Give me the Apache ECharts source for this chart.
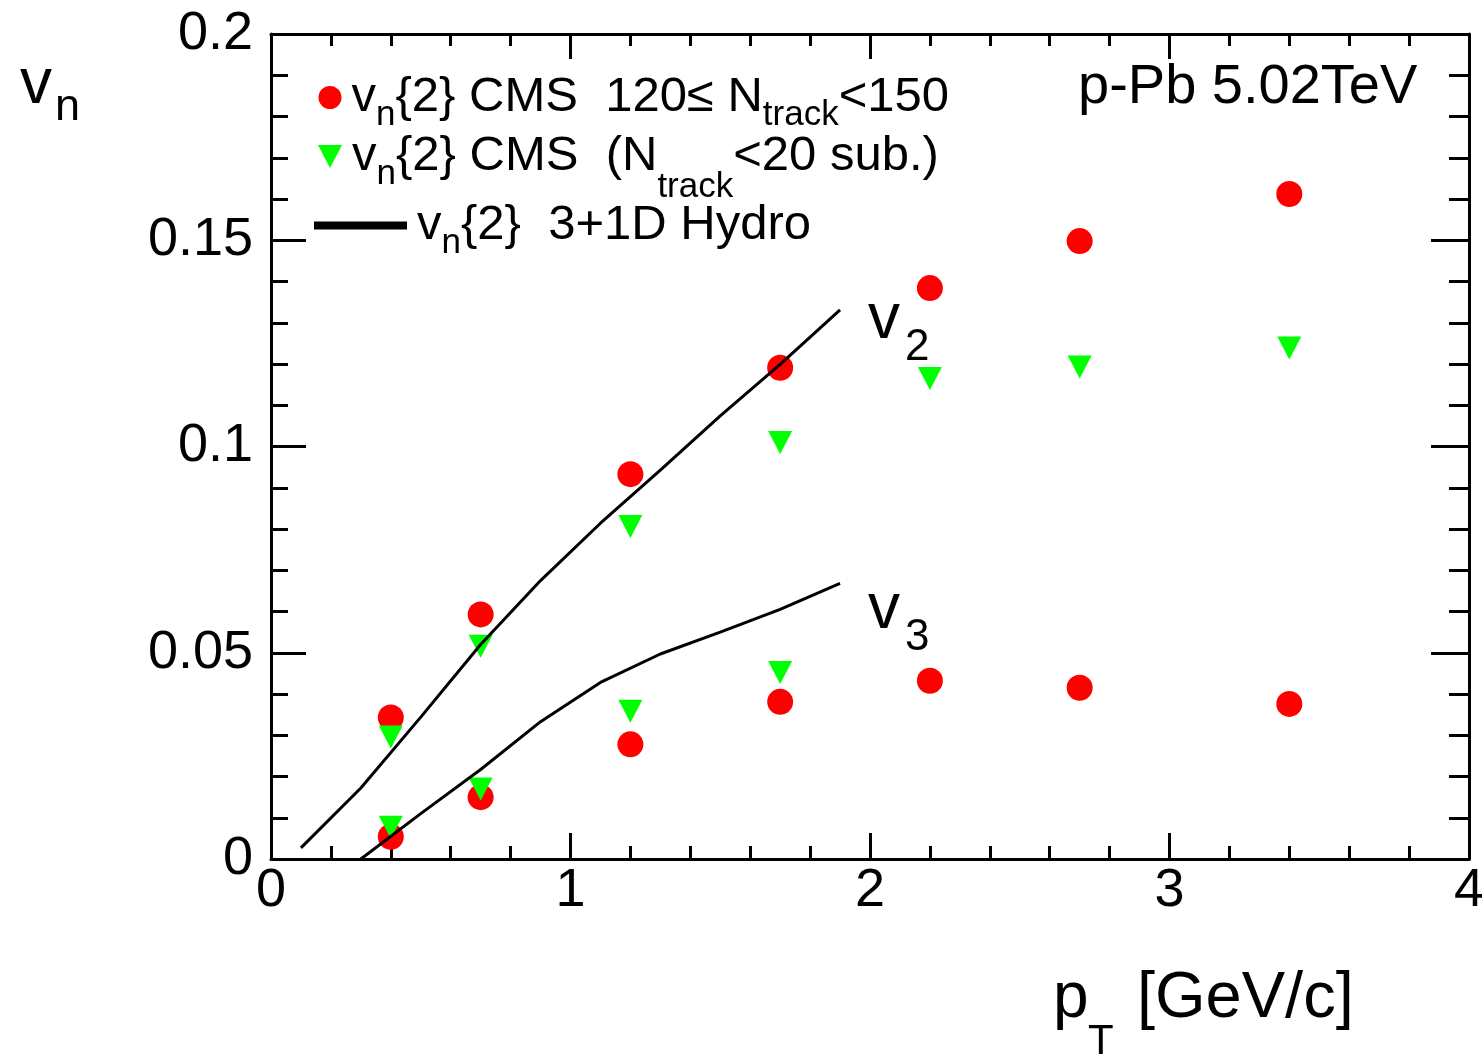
<!DOCTYPE html>
<html>
<head>
<meta charset="utf-8">
<script src="https://cdn.jsdelivr.net/npm/echarts@6/dist/echarts.min.js"></script>
<style>
html,body{margin:0;padding:0;background:#ffffff;}
#chart{width:1482px;height:1056px;}
</style>
</head>
<body>
<div id="chart"></div>
<script>
// ---------------- data ----------------
const ptCms = [0.4, 0.7, 1.2, 1.7, 2.2, 2.7, 3.4];
const v2Cms = [0.0343, 0.0593, 0.0933, 0.1191, 0.1384, 0.1498, 0.1612];
const v3Cms = [0.0054, 0.0150, 0.0278, 0.0381, 0.0432, 0.0415, 0.0376];

const ptSubV2 = [0.4, 0.7, 1.2, 1.7, 2.2, 2.7, 3.4];
const v2Sub = [0.0296, 0.0516, 0.0806, 0.1010, 0.1165, 0.1193, 0.1239];
const ptSubV3 = [0.4, 0.7, 1.2, 1.7];
const v3Sub = [0.0077, 0.0170, 0.0358, 0.0452];

const ptHydroV2 = [0.1, 0.3, 0.5, 0.7, 0.9, 1.1, 1.3, 1.5, 1.7, 1.9];
const v2Hydro = [0.0027, 0.0172, 0.0344, 0.0520, 0.0675, 0.0814, 0.0943, 0.1074, 0.1199, 0.1331];
const ptHydroV3 = [0.3, 0.5, 0.7, 0.9, 1.1, 1.3, 1.5, 1.7, 1.9];
const v3Hydro = [0.0, 0.0110, 0.0217, 0.0333, 0.0428, 0.0497, 0.0550, 0.0605, 0.0668];

const xTickLabels = ['0', '1', '2', '3', '4'];
const yTickLabels = ['0', '0.05', '0.1', '0.15', '0.2'];

const nameCms = 'vn{2} CMS 120≤Ntrack<150';
const nameSub = 'vn{2} CMS (Ntrack<20 sub.)';
const nameHydro = 'vn{2} 3+1D Hydro';

// ---------------- helpers ----------------
const FONT = 'Liberation Sans';
const zip = (xs, ys) => xs.map((x, i) => [x, ys[i]]);
const BLACK = '#000000';
const RED = '#ff0000';
const GREEN = '#00ff00';

const richStyles = {
  sub:  {fontSize: 35, fontFamily: FONT, color: BLACK, lineHeight: 35, padding: [36, 0, 0, 0]},
  sub2: {fontSize: 35, fontFamily: FONT, color: BLACK, lineHeight: 35, padding: [62, 0, 0, 0]}
};
const legendText = {
  fontSize: 49, fontFamily: FONT, color: BLACK, lineHeight: 46,
  padding: [0, 0, 0, 5], rich: richStyles
};

function tickStyle(len) {
  return {show: true, inside: true, length: len, lineStyle: {color: BLACK, width: 3}};
}
const axisLineStyle = {show: true, onZero: false, lineStyle: {color: BLACK, width: 3}};

function txt(x, y, s, size) {
  return {
    type: 'text', x: x, y: y, silent: true,
    style: {text: s, fontSize: size, fontFamily: FONT, fill: BLACK, align: 'left', verticalAlign: 'middle'}
  };
}
// y given as baseline; middle of em box sits ~0.3465em above baseline
function txtB(x, baseline, s, size) { return txt(x, baseline - 0.3465 * size, s, size); }

const chart = echarts.init(document.getElementById('chart'), null, {renderer: 'canvas'});

const option = {
  backgroundColor: '#ffffff',
  animation: false,
  grid: {left: 271, top: 34, right: 13, bottom: 197, outerBoundsMode: 'none', containLabel: false},
  xAxis: [
    {
      type: 'value', min: 0, max: 4, interval: 1, position: 'bottom',
      axisLine: axisLineStyle,
      axisTick: tickStyle(26),
      minorTick: {show: true, splitNumber: 5, length: 13, lineStyle: {color: BLACK, width: 3}},
      splitLine: {show: false}, minorSplitLine: {show: false},
      axisLabel: {
        show: true, margin: 5, fontSize: 54, fontFamily: FONT, color: BLACK,
        showMinLabel: true, showMaxLabel: true, hideOverlap: false,
        formatter: v => xTickLabels[Math.round(v)]
      }
    },
    {
      type: 'value', min: 0, max: 4, interval: 1, position: 'top',
      axisLine: axisLineStyle,
      axisTick: tickStyle(25),
      minorTick: {show: true, splitNumber: 5, length: 12, lineStyle: {color: BLACK, width: 3}},
      splitLine: {show: false}, minorSplitLine: {show: false},
      axisLabel: {show: false}
    }
  ],
  yAxis: [
    {
      type: 'value', min: 0, max: 0.2, interval: 0.05, position: 'left',
      axisLine: axisLineStyle,
      axisTick: tickStyle(35),
      minorTick: {show: true, splitNumber: 5, length: 17, lineStyle: {color: BLACK, width: 3}},
      splitLine: {show: false}, minorSplitLine: {show: false},
      axisLabel: {
        show: true, margin: 18, fontSize: 54, fontFamily: FONT, color: BLACK,
        showMinLabel: true, showMaxLabel: true,
        formatter: v => yTickLabels[Math.round(v / 0.05)]
      }
    },
    {
      type: 'value', min: 0, max: 0.2, interval: 0.05, position: 'right',
      axisLine: axisLineStyle,
      axisTick: tickStyle(38),
      minorTick: {show: true, splitNumber: 5, length: 20, lineStyle: {color: BLACK, width: 3}},
      splitLine: {show: false}, minorSplitLine: {show: false},
      axisLabel: {show: false}
    }
  ],
  legend: [
    {
      data: [nameCms], selectedMode: false, padding: 0, itemGap: 0,
      left: 318.5, top: 62, itemWidth: 23, itemHeight: 23,
      itemStyle: {color: RED, opacity: 1},
      formatter: () => 'v{sub|n}{2} CMS  120≤ N{sub|track}<150',
      textStyle: legendText
    },
    {
      data: [{name: nameSub, icon: 'path://M0,0L24,0L12,23Z'}], selectedMode: false, padding: 0, itemGap: 0,
      left: 318, top: 108, itemWidth: 24, itemHeight: 24, symbolRotate: 0,
      itemStyle: {color: GREEN, opacity: 1},
      formatter: () => 'v{sub|n}{2} CMS  (N{sub2|track}<20 sub.)',
      textStyle: legendText
    },
    {
      data: [{name: nameHydro, icon: 'rect'}], selectedMode: false, padding: 0, itemGap: 0,
      left: 314, top: 190, itemWidth: 93, itemHeight: 8,
      itemStyle: {color: BLACK, opacity: 1},
      formatter: () => 'v{sub|n}{2}  3+1D Hydro',
      textStyle: legendText
    }
  ],
  series: [
    {
      name: nameCms, type: 'scatter', xAxisIndex: 0, yAxisIndex: 0,
      data: zip(ptCms, v2Cms), symbol: 'circle', symbolSize: 26,
      itemStyle: {color: RED, opacity: 1}, z: 2
    },
    {
      name: nameCms, type: 'scatter', xAxisIndex: 0, yAxisIndex: 0,
      data: zip(ptCms, v3Cms), symbol: 'circle', symbolSize: 26,
      itemStyle: {color: RED, opacity: 1}, z: 2
    },
    {
      name: nameSub, type: 'scatter', xAxisIndex: 0, yAxisIndex: 0,
      data: zip(ptSubV2, v2Sub), symbol: 'triangle', symbolSize: [24, 23], symbolRotate: 180,
      itemStyle: {color: GREEN, opacity: 1}, z: 3
    },
    {
      name: nameSub, type: 'scatter', xAxisIndex: 0, yAxisIndex: 0,
      data: zip(ptSubV3, v3Sub), symbol: 'triangle', symbolSize: [24, 23], symbolRotate: 180,
      itemStyle: {color: GREEN, opacity: 1}, z: 3
    },
    {
      name: nameHydro, type: 'line', xAxisIndex: 0, yAxisIndex: 0,
      data: zip(ptHydroV2, v2Hydro), symbol: 'none', smooth: false,
      lineStyle: {color: BLACK, width: 3}, itemStyle: {color: BLACK}, z: 4
    },
    {
      name: nameHydro, type: 'line', xAxisIndex: 0, yAxisIndex: 0,
      data: zip(ptHydroV3, v3Hydro), symbol: 'none', smooth: false,
      lineStyle: {color: BLACK, width: 3}, itemStyle: {color: BLACK}, z: 4
    }
  ],
  graphic: [
    // y-axis title v_n
    txtB(20, 108, 'v', 64),
    txtB(55, 123, 'n', 45),
    // x-axis title p_T [GeV/c]
    txtB(1053, 1022, 'p', 64),
    txtB(1088, 1057, 'T', 42),
    txtB(1137, 1022, '[GeV/c]', 65),
    // collision system
    txtB(1078, 107, 'p-Pb 5.02TeV', 56),
    // curve labels
    txtB(868, 343, 'v', 64),
    txtB(905, 363, '2', 44),
    txtB(868, 633, 'v', 64),
    txtB(905, 653, '3', 44)
  ]
};

chart.setOption(option);
</script>
</body>
</html>
